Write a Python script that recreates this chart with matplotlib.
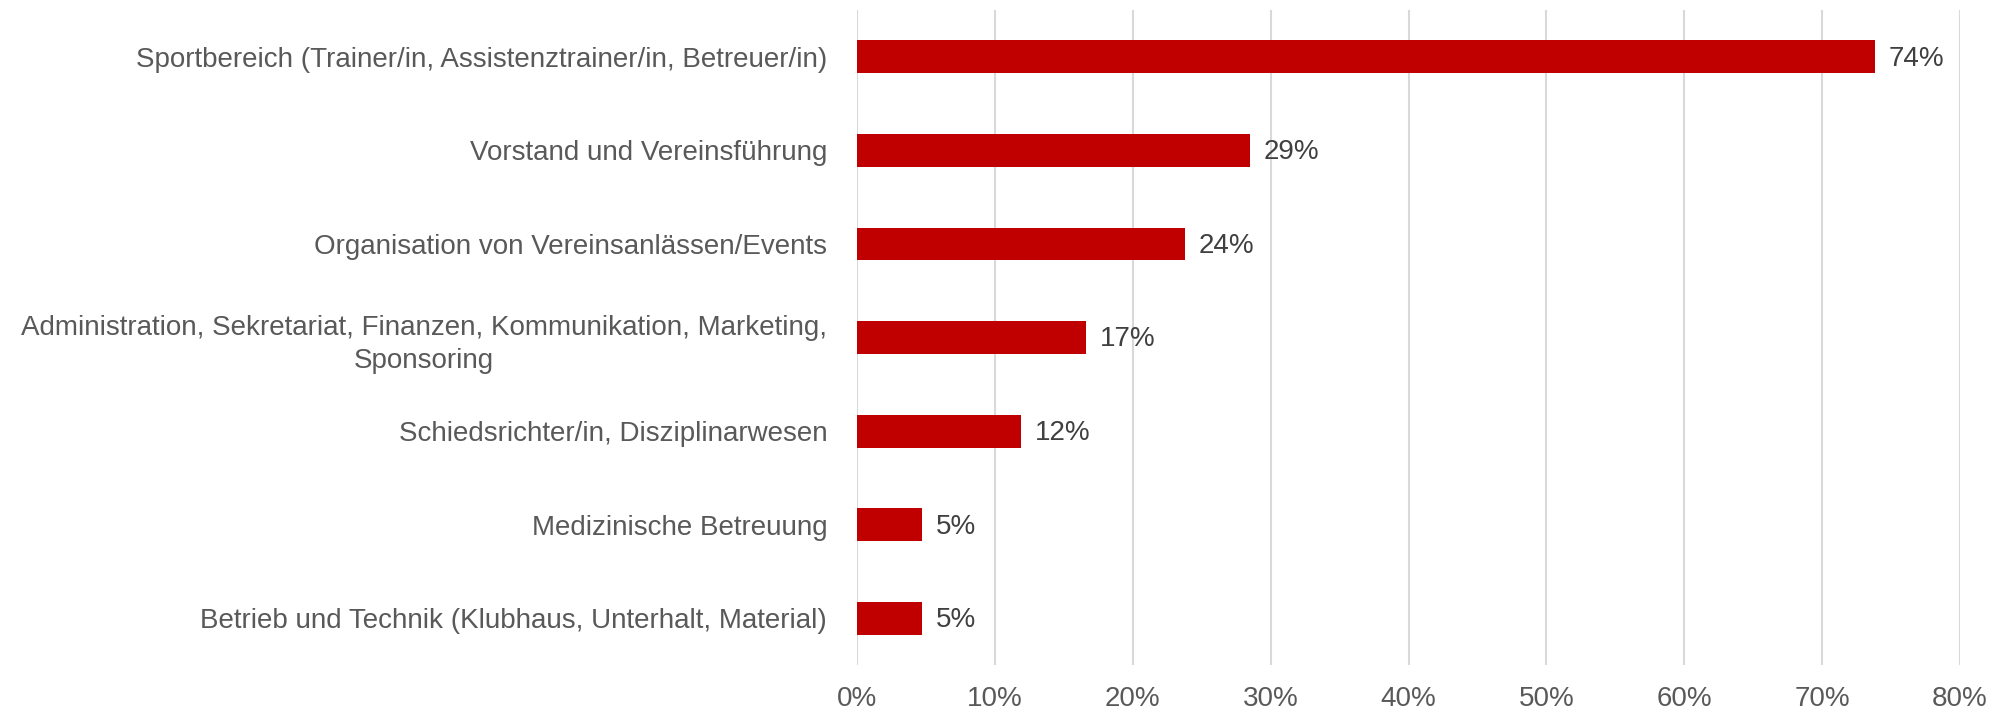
import numpy as np
import matplotlib.pyplot as plt

plt.rcParams['font.family'] = ['Liberation Sans', 'DejaVu Sans']

categories = ['Sportbereich (Trainer/in, Assistenztrainer/in, Betreuer/in)',
              'Vorstand und Vereinsführung',
              'Organisation von Vereinsanlässen/Events',
              'Administration, Sekretariat, Finanzen, Kommunikation, Marketing,\nSponsoring',
              'Schiedsrichter/in, Disziplinarwesen',
              'Medizinische Betreuung',
              'Betrieb und Technik (Klubhaus, Unterhalt, Material)']
values = [73.8, 28.5, 23.8, 16.6, 11.9, 4.7, 4.7]
labels = ['74%', '29%', '24%', '17%', '12%', '5%', '5%']
xticks = [0, 10, 20, 30, 40, 50, 60, 70, 80]

fig = plt.figure(figsize=(20.11, 7.13), dpi=100)
ax = fig.add_axes([0.4262, 0.067, 0.5485, 0.919])

y = np.arange(len(categories))
ax.barh(y, values, height=0.35, color='#c00000', zorder=3)
for yi, v, lab in zip(y, values, labels):
    ax.text(v + 1.0, yi + 0.02, lab, va='center', ha='left', fontsize=20, color='#404040')

ax.set_ylim(len(categories) - 0.5, -0.5)
ax.set_xlim(0, 80)
ax.set_xticks(xticks)
ax.set_xticklabels([str(t) + '%' for t in xticks])
ax.set_yticks(y)
ax.set_yticklabels(categories, ha='right', multialignment='center', linespacing=1.35)
ax.tick_params(axis='y', length=0, pad=21.5, labelsize=20, labelcolor='#595959')
ax.tick_params(axis='x', length=0, pad=15, labelsize=20, labelcolor='#595959')

ax.xaxis.grid(True, color='#d9d9d9', linewidth=1.5, zorder=0)
for s in ax.spines.values():
    s.set_visible(False)

fig.savefig('out.png', dpi=100)
